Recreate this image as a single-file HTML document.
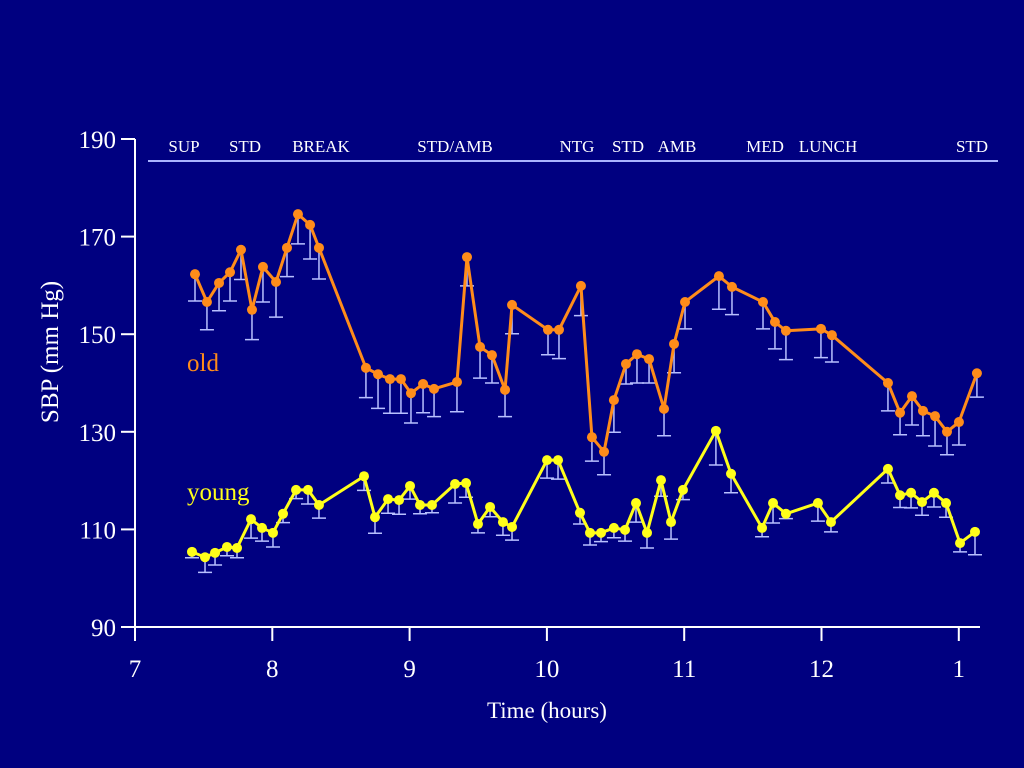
<!DOCTYPE html>
<html><head><meta charset="utf-8"><style>
body{margin:0;background:#000080;}
svg{display:block;font-family:"Liberation Serif",serif;}
</style></head><body>
<svg id="chart" width="1024" height="768" viewBox="0 0 1024 768">
<rect width="1024" height="768" fill="#000080"/>
<g id="axes"></g>
<g id="marks"></g>
</svg>
<script>
const yTicks=[90,110,130,150,170,190];
const xTicks=[7,8,9,10,11,12,13];
const xTickLabels=["7","8","9","10","11","12","1"];
const events=["SUP","STD","BREAK","STD/AMB","NTG","STD","AMB","MED","LUNCH","STD"];
const eventX=[184,245,321,455,577,628,677,765,828,972];
const oldT=[7.437,7.524,7.612,7.692,7.772,7.852,7.932,8.027,8.107,8.187,8.275,8.340,8.682,8.770,8.857,8.937,9.010,9.098,9.178,9.345,9.418,9.513,9.600,9.695,9.746,10.008,10.088,10.248,10.328,10.416,10.488,10.576,10.656,10.744,10.853,10.926,11.006,11.253,11.348,11.574,11.661,11.741,11.996,12.076,12.484,12.572,12.659,12.739,12.827,12.914,13.001,13.132];
const oldV=[162.3,156.6,160.5,162.7,167.3,155.0,163.8,160.7,167.7,174.6,172.4,167.7,143.1,141.8,140.8,140.8,137.9,139.8,138.8,140.2,165.8,147.4,145.7,138.6,156.0,150.9,150.9,159.9,128.9,125.9,136.5,143.9,145.9,144.9,134.7,148.0,156.6,161.9,159.7,156.6,152.5,150.7,151.1,149.8,140.0,133.9,137.3,134.3,133.2,130.0,132.0,142.0];
const oldE=[5.5,5.7,5.7,5.9,6.1,6.1,7.2,7.2,5.9,6.1,7.0,6.4,6.1,7.0,7.0,7.0,6.1,5.9,5.7,6.1,5.9,6.4,5.7,5.5,5.9,5.1,5.9,6.1,4.9,4.7,6.6,4.1,5.9,4.9,5.5,5.9,5.5,6.8,5.7,5.5,5.5,5.9,5.9,5.5,5.7,4.5,5.9,5.1,6.1,4.7,4.7,4.9];
const youngT=[7.415,7.510,7.583,7.670,7.743,7.845,7.925,8.005,8.078,8.173,8.260,8.340,8.668,8.748,8.843,8.923,9.003,9.076,9.163,9.331,9.411,9.498,9.586,9.680,9.746,10.001,10.081,10.241,10.314,10.394,10.488,10.569,10.649,10.729,10.831,10.904,10.991,11.231,11.341,11.567,11.647,11.741,11.974,12.069,12.484,12.572,12.652,12.732,12.819,12.907,13.009,13.118];
const youngV=[105.4,104.3,105.2,106.4,106.2,112.1,110.3,109.3,113.2,118.1,118.1,115.0,120.9,112.5,116.2,116.0,118.9,115.0,115.0,119.3,119.5,111.1,114.6,111.5,110.5,124.2,124.2,113.4,109.3,109.3,110.3,109.9,115.4,109.3,120.1,111.5,118.1,130.2,121.4,110.3,115.4,113.2,115.4,111.5,122.4,117.0,117.5,115.6,117.5,115.4,107.2,109.5];
const youngE=[1.2,3.1,2.5,1.8,2.0,3.9,2.7,2.9,1.8,1.8,2.9,2.7,2.9,3.3,2.9,2.9,2.7,1.8,1.6,3.9,2.9,1.8,2.0,2.7,2.7,3.7,3.9,2.3,2.5,1.8,2.0,2.3,3.9,3.1,3.3,3.5,2.0,7.0,3.9,1.8,4.1,1.0,3.7,2.0,2.9,2.5,3.1,2.7,2.9,2.9,1.8,4.7];

const NS="http://www.w3.org/2000/svg";
const X0=135,Y0=627,PX=137.3,PY=4.88;
function sx(t){return X0+(t-7)*PX;}
function sy(v){return Y0-(v-90)*PY;}
function mk(tag,attrs,parent){const e=document.createElementNS(NS,tag);for(const k in attrs)e.setAttribute(k,attrs[k]);parent.appendChild(e);return e;}
const axes=document.getElementById('axes'),marks=document.getElementById('marks');

let l=mk('line',{x1:X0,y1:sy(190),x2:X0,y2:Y0,stroke:'#fff','stroke-width':2},axes);


l=mk('line',{x1:X0,y1:Y0,x2:980,y2:Y0,stroke:'#fff','stroke-width':2},axes);


yTicks.forEach(v=>{
  const t=mk('line',{x1:X0-14,y1:sy(v),x2:X0,y2:sy(v),stroke:'#fff','stroke-width':2},axes);
  
  
  const tx=mk('text',{x:116,y:sy(v)+9,'text-anchor':'end',fill:'#fff','font-size':25},axes);
  tx.textContent=v;
  
  
});
xTicks.forEach((h,i)=>{
  const t=mk('line',{x1:sx(h),y1:Y0,x2:sx(h),y2:Y0+14,stroke:'#fff','stroke-width':2},axes);
  
  
  const tx=mk('text',{x:sx(h),y:Y0+50,'text-anchor':'middle',fill:'#fff','font-size':25},axes);
  tx.textContent=xTickLabels[i];
  
  
});
let tt=mk('text',{x:547,y:718,'text-anchor':'middle',fill:'#fff','font-size':23},axes);
tt.textContent='Time (hours)';


tt=mk('text',{x:0,y:0,'text-anchor':'middle',fill:'#fff','font-size':25,transform:'translate(58,352) rotate(-90)'},axes);
tt.textContent='SBP (mm Hg)';


l=mk('line',{x1:148,y1:161,x2:998,y2:161,stroke:'#aab4ff','stroke-width':2},axes);


events.forEach((e,i)=>{
  const tx=mk('text',{x:eventX[i],y:152,'text-anchor':'middle',fill:'#fff','font-size':17},axes);
  tx.textContent=e;
  
  
});

function series(T,V,E,color,name){
  const g=mk('g',{},marks);
  
  
  T.forEach((t,i)=>{
    const x=sx(t),y=sy(V[i]),yb=sy(V[i]-E[i]);
    const b=mk('path',{d:`M${x},${y}V${yb}M${x-7},${yb}H${x+7}`,stroke:'#b8c0ff','stroke-width':1.5,fill:'none'},g);
    
    
  });
  const ln=mk('polyline',{points:T.map((t,i)=>sx(t)+','+sy(V[i])).join(' '),stroke:color,'stroke-width':3,fill:'none','stroke-linejoin':'round'},g);
  
  
  T.forEach((t,i)=>{
    const c=mk('circle',{cx:sx(t),cy:sy(V[i]),r:5,fill:color},g);
    
    
  });
}
series(oldT,oldV,oldE,'#ff8c1a','old');
series(youngT,youngV,youngE,'#ffff1a','young');
let lg=mk('text',{x:187,y:371,fill:'#ff8c1a','font-size':25},marks);
lg.textContent='old';


lg=mk('text',{x:187,y:500,fill:'#ffff1a','font-size':25},marks);
lg.textContent='young';


</script>
</body></html>
